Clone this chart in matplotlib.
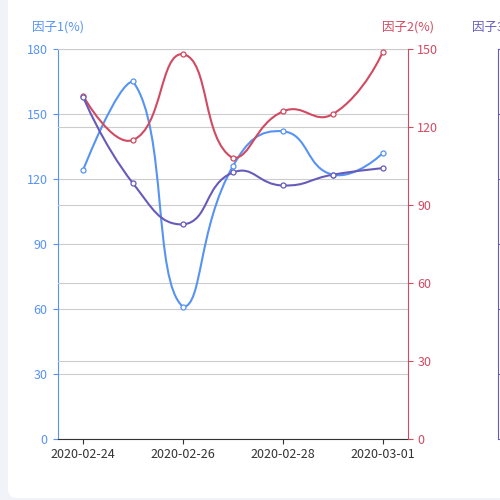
import math
import matplotlib
matplotlib.use('Agg')
import matplotlib.pyplot as plt
from matplotlib.path import Path
from matplotlib.patches import PathPatch, FancyBboxPatch

plt.rcParams['font.family'] = ['Noto Sans CJK SC', 'DejaVu Sans']

# data
dates = ['2020-02-24', '2020-02-25', '2020-02-26', '2020-02-27',
         '2020-02-28', '2020-02-29', '2020-03-01']
factor1 = [124, 165, 61, 126, 142, 122, 132]
factor2 = [132, 115, 148, 108, 126, 125, 149]
factor3 = [158, 118, 99, 123, 117, 122, 125]
axis_names = ['因子1(%)', '因子2(%)', '因子3(%)']
colors = ['#5793f3', '#d14a61', '#675bba']
ticks_left = [0, 30, 60, 90, 120, 150, 180]
ticks_right = [0, 30, 60, 90, 120, 150]
ticks_third = [0, 30, 60, 90, 120, 150, 180]


def smooth_curve(pts, smooth=0.5):
    # bezier smoothing like echarts 4 (pixel space, clamped to the bbox of the points)
    xmin = min(p[0] for p in pts); xmax = max(p[0] for p in pts)
    ymin = min(p[1] for p in pts); ymax = max(p[1] for p in pts)

    def clamp(c):
        return (min(max(c[0], xmin), xmax), min(max(c[1], ymin), ymax))

    verts = [tuple(pts[0])]
    codes = [Path.MOVETO]
    cp0 = tuple(pts[0])
    n = len(pts)
    for i in range(1, n):
        x, y = pts[i]
        px, py = pts[i - 1]
        if i == n - 1:
            cp1 = (x, y)
            ncp = (x, y)
        else:
            nx, ny = pts[i + 1]
            vx, vy = nx - px, ny - py
            lp = math.hypot(x - px, y - py)
            ln = math.hypot(nx - x, ny - y)
            r = ln / (ln + lp)
            cp1 = (x - vx * smooth * (1 - r), y - vy * smooth * (1 - r))
            ncp = (x + vx * smooth * r, y + vy * smooth * r)
        verts += [clamp(cp0), clamp(cp1), (x, y)]
        codes += [Path.CURVE4] * 3
        cp0 = ncp
    return verts, codes


fig = plt.figure(figsize=(5, 5), dpi=100)
fig.patch.set_facecolor('#f2f3f8')
card = FancyBboxPatch((8 / 500, 2 / 500), 1.0, 1.02,
                      boxstyle='round,pad=0,rounding_size=0.018',
                      transform=fig.transFigure, fc='white', ec='none', zorder=0)
fig.add_artist(card)

ax = fig.add_axes([58 / 500, 61 / 500, 350 / 500, 390 / 500])
ax.patch.set_alpha(0)
ax2 = ax.twinx()
ax3 = ax.twinx()
ax3.spines['right'].set_position(('axes', 440 / 350))

x = list(range(len(dates)))
for a in (ax, ax2, ax3):
    a.set_xlim(-0.5, len(dates) - 0.5)
ax.set_ylim(0, 180)
ax2.set_ylim(0, 150)
ax3.set_ylim(0, 180)

# x axis
ax.set_xticks(x[::2])
ax.set_xticklabels(dates[::2], fontsize=9, color='#333333')
ax.tick_params(axis='x', direction='out', length=3.6, width=0.8,
               color='#333333', pad=3)
ax.spines['bottom'].set_color('#333333')
ax.spines['top'].set_visible(False)
ax.spines['right'].set_visible(False)

# left axis
ax.set_yticks(ticks_left)
ax.spines['left'].set_color(colors[0])
ax.tick_params(axis='y', colors=colors[0], labelsize=9, length=3.6, width=0.8, pad=4)
ax.grid(axis='y', color='#cccccc', lw=0.8)

# right axis
for s in ('left', 'top', 'bottom'):
    ax2.spines[s].set_visible(False)
    ax3.spines[s].set_visible(False)
ax2.set_yticks(ticks_right)
ax2.spines['right'].set_color(colors[1])
ax2.tick_params(axis='y', colors=colors[1], labelsize=9, length=3.6, width=0.8, pad=3)
ax2.grid(axis='y', color='#cccccc', lw=0.8)

# third axis (its labels fall outside the picture)
ax3.set_yticks(ticks_third)
ax3.spines['right'].set_color(colors[2])
ax3.tick_params(axis='y', colors=colors[2], length=3.6, width=0.8, labelright=False)

# axis names
for xa, name, c in zip((0, 1, 440 / 350), axis_names, colors):
    ax.annotate(name, xy=(xa, 1), xycoords='axes fraction', xytext=(0, 22),
                textcoords='offset pixels', ha='center', va='center',
                fontsize=9, color=c, annotation_clip=False)

# series, all drawn on the top axes so the grid stays below
for vals, a, c in zip((factor1, factor2, factor3), (ax, ax2, ax3), colors):
    trans = a.transData
    pts = trans.transform(list(zip(x, vals)))
    verts, codes = smooth_curve(pts)
    data_verts = trans.inverted().transform(verts)
    ax3.add_patch(PathPatch(Path(data_verts, codes), transform=trans,
                            fc='none', ec=c, lw=1.5, clip_on=False, zorder=3))
    ax3.plot(x, vals, transform=trans, ls='none', marker='o', ms=3.6,
             mfc='white', mec=c, mew=0.9, clip_on=False, zorder=4)

ax3.set_ylim(0, 180)
ax3.set_xlim(-0.5, len(dates) - 0.5)

plt.savefig('out.png', dpi=100, facecolor=fig.get_facecolor())
